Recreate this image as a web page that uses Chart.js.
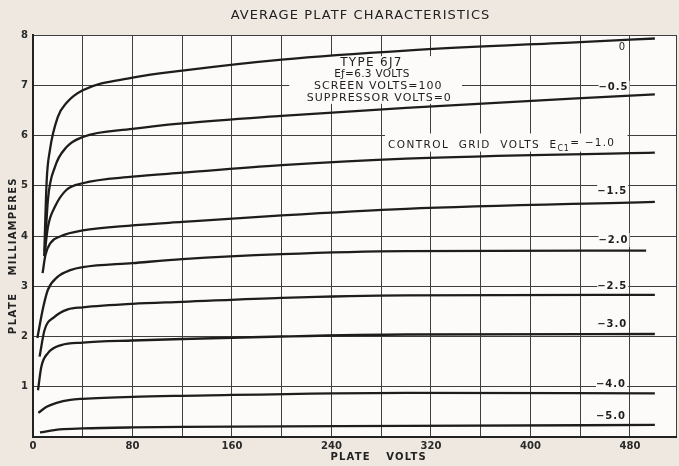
<!DOCTYPE html>
<html>
<head>
<meta charset="utf-8">
<script src="https://cdn.jsdelivr.net/npm/chart.js@4/dist/chart.umd.min.js"></script>
<style>
  html, body { margin: 0; padding: 0; background: #efe8e1; }
  #wrap { width: 679px; height: 466px; }
</style>
</head>
<body>
<div id="wrap"><canvas id="c" width="679" height="466"></canvas></div>
<script>
// ---- DATA (plate volts, plate milliamperes) ----
const gridVoltLabels = ['0', '-0.5', '-1.0', '-1.5', '-2.0', '-2.5', '-3.0', '-4.0', '-5.0'];

const ec0    = [[9,3.6],[11,5.1],[13.6,5.71],[20,6.37],[27,6.65],[40,6.9],[80,7.15],[120,7.29],[200,7.51],[300,7.69],[440,7.86],[500,7.93]];
const ecM05  = [[9.5,3.7],[12,4.72],[17.6,5.37],[27,5.77],[40,5.97],[80,6.13],[120,6.24],[200,6.39],[300,6.55],[500,6.82]];
const ecM10  = [[9.6,3.7],[12,4.18],[17.6,4.58],[27,4.92],[40,5.05],[80,5.18],[120,5.26],[200,5.41],[300,5.54],[500,5.66]];
const ecM15  = [[7.7,3.26],[10,3.62],[14,3.86],[22.7,4.0],[40,4.11],[80,4.21],[120,4.28],[200,4.41],[300,4.54],[500,4.68]];
const ecM20  = [[3.5,1.97],[8.3,2.59],[12,2.93],[20,3.19],[30,3.32],[40,3.38],[80,3.46],[120,3.54],[200,3.64],[300,3.70],[493,3.71]];
const ecM25  = [[5.3,1.6],[9.3,2.13],[17.3,2.39],[28,2.54],[40,2.58],[80,2.65],[120,2.69],[200,2.77],[300,2.82],[500,2.83]];
const ecM30  = [[4,0.93],[6.7,1.40],[12,1.67],[22.7,1.83],[40,1.88],[80,1.92],[120,1.95],[200,2.0],[300,2.04],[500,2.05]];
const ecM40  = [[4.3,0.48],[11,0.60],[19,0.68],[30,0.74],[40,0.76],[80,0.80],[120,0.82],[300,0.88],[500,0.87]];
const ecM50  = [[5.6,0.09],[21.6,0.15],[40,0.17],[80,0.19],[120,0.20],[300,0.22],[500,0.24]];

const curves = [ec0, ecM05, ecM10, ecM15, ecM20, ecM25, ecM30, ecM40, ecM50];

// curve label anchor points (volts, mA) for right-hand labels
const labelVolts = [476, 478, 478, 477, 478, 477, 477, 476, 476];
const labelMa    = [7.76, 6.95, 5.83, 4.88, 3.92, 2.99, 2.25, 1.05, 0.40];

const xTickLabels = [0, 80, 160, 240, 320, 400, 480];
const yTickLabels = [1, 2, 3, 4, 5, 6, 7, 8];

const titleText = 'AVERAGE PLATF CHARACTERISTICS';
const specLines = ['TYPE 6J7', 'Eƒ=6.3 VOLTS', 'SCREEN VOLTS=100', 'SUPPRESSOR VOLTS=0'];

// ---- CHART ----
const INK = '#1d1d1d';
const GRID = '#3e3e3e';
const PAPER = '#fcfbf9';
const FONT = '"DejaVu Sans", "Liberation Sans", sans-serif';

const datasets = curves.map((c, i) => ({
  label: 'Ec1 = ' + gridVoltLabels[i],
  data: c.map(p => ({ x: p[0], y: p[1] })),
  borderColor: INK,
  borderWidth: 2.3,
  pointRadius: 0,
  fill: false,
  cubicInterpolationMode: 'monotone'
}));

function spaced(ctx, text, x, y, spacing, align) {
  ctx.save();
  ctx.letterSpacing = spacing + 'px';
  const w = ctx.measureText(text).width;
  let sx = x;
  if (align === 'center') sx = x - (w - spacing) / 2;
  else if (align === 'right') sx = x - (w - spacing);
  ctx.textAlign = 'left';
  ctx.fillText(text, sx, y);
  ctx.restore();
  return w;
}

const decor = {
  id: 'decor',
  beforeDraw(chart) {
    const { ctx, chartArea: a } = chart;
    ctx.save();
    ctx.fillStyle = '#efe8e1';
    ctx.fillRect(0, 0, chart.width, chart.height);
    ctx.fillStyle = PAPER;
    ctx.fillRect(a.left, a.top, a.right - a.left, a.bottom - a.top);
    ctx.restore();
  },
  beforeDatasetsDraw(chart) {
    const { ctx, scales: { x, y } } = chart;
    ctx.save();
    ctx.fillStyle = PAPER;
    // spec box
    const bx1 = x.getPixelForValue(206), bx2 = x.getPixelForValue(345);
    const by1 = y.getPixelForValue(7.58), by2 = y.getPixelForValue(6.63);
    ctx.fillRect(bx1, by1, bx2 - bx1, by2 - by1);
    // control grid text box
    const cx1 = x.getPixelForValue(283), cx2 = x.getPixelForValue(478);
    const cy1 = y.getPixelForValue(6.04), cy2 = y.getPixelForValue(5.68);
    ctx.fillRect(cx1, cy1, cx2 - cx1, cy2 - cy1);
    // right labels
    ctx.textBaseline = 'middle';
    for (let i = 1; i < gridVoltLabels.length; i++) {
      if (i === 2) continue;
      const px = x.getPixelForValue(labelVolts[i]);
      const py = y.getPixelForValue(labelMa[i]);
      ctx.fillStyle = PAPER;
      ctx.fillRect(px - 29, py - 7, 31, 14);
    }
    ctx.fillStyle = INK;
    for (let i = 0; i < gridVoltLabels.length; i++) {
      if (i === 2) continue;
      const px = x.getPixelForValue(labelVolts[i]);
      const py = y.getPixelForValue(labelMa[i]);
      const t = gridVoltLabels[i].replace('-', '\u2212');
      ctx.font = (i === 0 ? '' : 'bold ') + '10px ' + FONT;
      spaced(ctx, t, px, py, 1, 'right');
    }
    // spec text
    const sx = x.getPixelForValue(274);
    ctx.fillStyle = INK;
    ctx.textBaseline = 'middle';
    ctx.font = '12px ' + FONT;
    spaced(ctx, specLines[0], sx - 3, y.getPixelForValue(7.445), 1.3, 'center');
    ctx.font = '10.5px ' + FONT;
    spaced(ctx, specLines[1], sx - 2, y.getPixelForValue(7.225), 0.3, 'center');
    ctx.font = '11px ' + FONT;
    spaced(ctx, specLines[2], sx + 4, y.getPixelForValue(6.98), 1.0, 'center');
    spaced(ctx, specLines[3], sx + 5, y.getPixelForValue(6.74), 1.0, 'center');
    // control grid volts text
    let tx = x.getPixelForValue(285.5);
    const ty = y.getPixelForValue(5.80);
    ctx.font = '10.5px ' + FONT;
    tx += spaced(ctx, 'CONTROL  GRID  VOLTS  E', tx, ty, 1.4, 'left');
    ctx.font = '8px ' + FONT;
    tx += spaced(ctx, 'C1', tx, ty + 3, 0.5, 'left');
    ctx.font = '10.5px ' + FONT;
    spaced(ctx, '= \u22121.0', tx + 1, ty - 2, 1.2, 'left');
    ctx.restore();
  },
  afterDraw(chart) {
    const { ctx, scales: { x } } = chart;
    ctx.save();
    ctx.fillStyle = '#222';
    ctx.textBaseline = 'middle';
    ctx.font = '13px ' + FONT;
    spaced(ctx, titleText, 360, 16, 1.1, 'center');
    ctx.font = 'bold 10px ' + FONT;
    spaced(ctx, 'PLATE', x.getPixelForValue(242) + 16, 457, 1.2, 'center');
    spaced(ctx, 'VOLTS', x.getPixelForValue(242) + 72, 457, 1.2, 'center');
    ctx.translate(13, 0);
    ctx.rotate(-Math.PI / 2);
    spaced(ctx, 'PLATE', -314, 0, 1.5, 'center');
    spaced(ctx, 'MILLIAMPERES', -227, 0, 1.2, 'center');
    ctx.restore();
  }
};

new Chart(document.getElementById('c'), {
  type: 'line',
  data: { datasets },
  options: {
    responsive: false,
    devicePixelRatio: 1,
    animation: false,
    events: [],
    layout: { padding: { top: 35, right: 0, left: 0, bottom: 0 } },
    plugins: { legend: { display: false }, title: { display: false }, tooltip: { enabled: false } },
    scales: {
      x: {
        type: 'linear',
        min: 0,
        max: 517,
        afterFit(s) { s.height = 29; },
        grid: { color: GRID, lineWidth: 1, drawTicks: false },
        border: { color: '#222', width: 2 },
        ticks: {
          stepSize: 40,
          padding: 3,
          color: '#2a2a2a',
          font: { family: FONT, size: 10, weight: 'bold' },
          maxRotation: 0,
          autoSkip: false,
          callback: v => xTickLabels.includes(v) ? String(v) : ''
        }
      },
      y: {
        type: 'linear',
        min: 0,
        max: 8,
        afterFit(s) { s.width = 33; },
        grid: { color: GRID, lineWidth: 1, drawTicks: false },
        border: { color: '#222', width: 2 },
        ticks: {
          stepSize: 1,
          padding: 5,
          color: '#2a2a2a',
          font: { family: FONT, size: 10, weight: 'bold' },
          callback: v => yTickLabels.includes(v) ? String(v) : ''
        }
      }
    }
  },
  plugins: [decor]
});
</script>
</body>
</html>
